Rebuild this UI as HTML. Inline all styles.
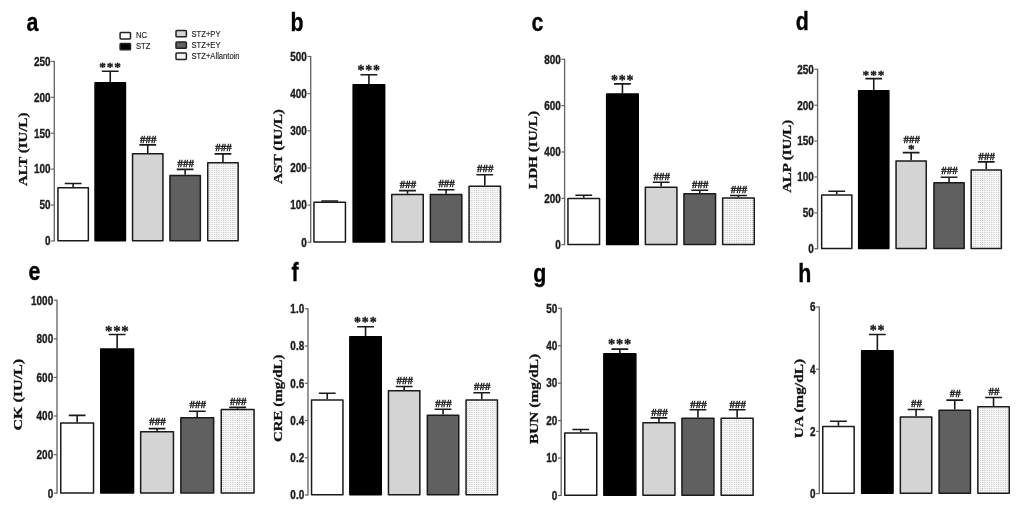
<!DOCTYPE html>
<html><head><meta charset="utf-8"><title>Figure</title>
<style>
html,body{margin:0;padding:0;background:#fff;}
body{width:1024px;height:510px;overflow:hidden;}
svg{display:block;will-change:transform;}
.tk{font-family:"Liberation Sans",sans-serif;font-weight:bold;font-size:12px;fill:#1a1a1a;stroke:#1a1a1a;stroke-width:0.35px;}
.hs{font-family:"Liberation Sans",sans-serif;font-weight:bold;font-size:12px;fill:#222;}
.yt{font-family:"Liberation Serif",serif;font-weight:bold;font-size:13.5px;fill:#111;stroke:#111;stroke-width:0.3px;}
.pl{font-family:"Liberation Sans",sans-serif;font-weight:bold;font-size:23px;fill:#000;stroke:#000;stroke-width:0.3px;}
.an{font-family:"Liberation Serif",serif;font-weight:bold;fill:#111;stroke:#111;stroke-width:0.3px;}
.lg{font-family:"Liberation Sans",sans-serif;font-size:9.8px;fill:#222;stroke:#222;stroke-width:0.15px;}
</style></head><body>
<svg width="1024" height="510" viewBox="0 0 1024 510"><defs><pattern id="dots" width="2.3" height="2" patternUnits="userSpaceOnUse"><rect width="2.3" height="2" fill="#f8f8f8"/><rect x="0" y="0" width="1" height="1" fill="#c4c4c4"/></pattern></defs><g><path d="M54.3 60.9V241.5" stroke="#666666" stroke-width="1.35" fill="none"/><path d="M51.1 241H54.3" stroke="#666666" stroke-width="1.2"/><text transform="translate(50.5 245.3) scale(0.83 1)" text-anchor="end" class="tk">0</text><path d="M51.1 205.08H54.3" stroke="#666666" stroke-width="1.2"/><text transform="translate(50.5 209.38) scale(0.83 1)" text-anchor="end" class="tk">50</text><path d="M51.1 169.16H54.3" stroke="#666666" stroke-width="1.2"/><text transform="translate(50.5 173.46) scale(0.83 1)" text-anchor="end" class="tk">100</text><path d="M51.1 133.24H54.3" stroke="#666666" stroke-width="1.2"/><text transform="translate(50.5 137.54) scale(0.83 1)" text-anchor="end" class="tk">150</text><path d="M51.1 97.32H54.3" stroke="#666666" stroke-width="1.2"/><text transform="translate(50.5 101.62) scale(0.83 1)" text-anchor="end" class="tk">200</text><path d="M51.1 61.4H54.3" stroke="#666666" stroke-width="1.2"/><text transform="translate(50.5 65.7) scale(0.83 1)" text-anchor="end" class="tk">250</text><path d="M73.15 187V183.5M64.75 183.5H81.55" stroke="#1a1a1a" stroke-width="1.6" fill="none"/><rect x="57.95" y="187.75" width="30.4" height="52.95" fill="#ffffff" stroke="#1a1a1a" stroke-width="1.5" stroke-linejoin="round"/><path d="M110.25 81.9V71.2M101.85 71.2H118.65" stroke="#1a1a1a" stroke-width="1.6" fill="none"/><rect x="95.05" y="82.65" width="30.4" height="158.05" fill="#000000" stroke="#000" stroke-width="1.5" stroke-linejoin="round"/><text class="an" text-anchor="middle" x="102.6" y="71.08" font-size="13.3">*</text><text class="an" text-anchor="middle" x="110.05" y="71.08" font-size="13.3">*</text><text class="an" text-anchor="middle" x="117.5" y="71.08" font-size="13.3">*</text><path d="M147.75 153.1V144.9M139.35 144.9H156.15" stroke="#1a1a1a" stroke-width="1.6" fill="none"/><rect x="132.55" y="153.85" width="30.4" height="86.85" fill="#d4d4d4" stroke="#1a1a1a" stroke-width="1.5" stroke-linejoin="round"/><text class="an" text-anchor="middle" transform="translate(148.25 142.89) scale(0.97 1)" font-size="11.3">###</text><path d="M185.15 174.7V169.4M176.75 169.4H193.55" stroke="#1a1a1a" stroke-width="1.6" fill="none"/><rect x="169.95" y="175.45" width="30.4" height="65.25" fill="#606060" stroke="#1a1a1a" stroke-width="1.5" stroke-linejoin="round"/><text class="an" text-anchor="middle" transform="translate(185.65 167.09) scale(0.97 1)" font-size="11.3">###</text><path d="M222.95 161.9V153.9M214.55 153.9H231.35" stroke="#1a1a1a" stroke-width="1.6" fill="none"/><rect x="207.75" y="162.65" width="30.4" height="78.05" fill="url(#dots)" stroke="#1a1a1a" stroke-width="1.5" stroke-linejoin="round"/><text class="an" text-anchor="middle" transform="translate(223.45 151.49) scale(0.97 1)" font-size="11.3">###</text><text class="yt" text-anchor="middle" textLength="73.6" lengthAdjust="spacingAndGlyphs" transform="translate(27.1 149.25) rotate(-90)">ALT (IU/L)</text><text class="pl" transform="translate(26.5 31) scale(0.93 1.12)">a</text></g><g><path d="M310.7 56V242.8" stroke="#666666" stroke-width="1.35" fill="none"/><path d="M307.5 242.3H310.7" stroke="#666666" stroke-width="1.2"/><text transform="translate(306.9 246.6) scale(0.83 1)" text-anchor="end" class="tk">0</text><path d="M307.5 205.14H310.7" stroke="#666666" stroke-width="1.2"/><text transform="translate(306.9 209.44) scale(0.83 1)" text-anchor="end" class="tk">100</text><path d="M307.5 167.98H310.7" stroke="#666666" stroke-width="1.2"/><text transform="translate(306.9 172.28) scale(0.83 1)" text-anchor="end" class="tk">200</text><path d="M307.5 130.82H310.7" stroke="#666666" stroke-width="1.2"/><text transform="translate(306.9 135.12) scale(0.83 1)" text-anchor="end" class="tk">300</text><path d="M307.5 93.66H310.7" stroke="#666666" stroke-width="1.2"/><text transform="translate(306.9 97.96) scale(0.83 1)" text-anchor="end" class="tk">400</text><path d="M307.5 56.5H310.7" stroke="#666666" stroke-width="1.2"/><text transform="translate(306.9 60.8) scale(0.83 1)" text-anchor="end" class="tk">500</text><path d="M329.7 201.6V201M321.3 201H338.1" stroke="#1a1a1a" stroke-width="1.6" fill="none"/><rect x="313.95" y="202.35" width="31.5" height="39.65" fill="#ffffff" stroke="#1a1a1a" stroke-width="1.5" stroke-linejoin="round"/><path d="M368.9 84V74.7M360.5 74.7H377.3" stroke="#1a1a1a" stroke-width="1.6" fill="none"/><rect x="353.15" y="84.75" width="31.5" height="157.25" fill="#000000" stroke="#000" stroke-width="1.5" stroke-linejoin="round"/><text class="an" text-anchor="middle" x="360.9" y="74.8" font-size="14">*</text><text class="an" text-anchor="middle" x="368.7" y="74.8" font-size="14">*</text><text class="an" text-anchor="middle" x="376.5" y="74.8" font-size="14">*</text><path d="M407.5 193.8V190.6M399.1 190.6H415.9" stroke="#1a1a1a" stroke-width="1.6" fill="none"/><rect x="391.75" y="194.55" width="31.5" height="47.45" fill="#d4d4d4" stroke="#1a1a1a" stroke-width="1.5" stroke-linejoin="round"/><text class="an" text-anchor="middle" transform="translate(408 188.29) scale(0.97 1)" font-size="11.3">###</text><path d="M446.1 193.8V189.7M437.7 189.7H454.5" stroke="#1a1a1a" stroke-width="1.6" fill="none"/><rect x="430.35" y="194.55" width="31.5" height="47.45" fill="#606060" stroke="#1a1a1a" stroke-width="1.5" stroke-linejoin="round"/><text class="an" text-anchor="middle" transform="translate(446.6 186.79) scale(0.97 1)" font-size="11.3">###</text><path d="M484.8 185.5V174.7M476.4 174.7H493.2" stroke="#1a1a1a" stroke-width="1.6" fill="none"/><rect x="469.05" y="186.25" width="31.5" height="55.75" fill="url(#dots)" stroke="#1a1a1a" stroke-width="1.5" stroke-linejoin="round"/><text class="an" text-anchor="middle" transform="translate(485.3 172.49) scale(0.97 1)" font-size="11.3">###</text><text class="yt" text-anchor="middle" textLength="75" lengthAdjust="spacingAndGlyphs" transform="translate(282.1 146.55) rotate(-90)">AST (IU/L)</text><text class="pl" transform="translate(290.5 31) scale(0.93 1.12)">b</text></g><g><path d="M564.6 58.8V245.2" stroke="#666666" stroke-width="1.35" fill="none"/><path d="M561.4 244.7H564.6" stroke="#666666" stroke-width="1.2"/><text transform="translate(560.8 249) scale(0.83 1)" text-anchor="end" class="tk">0</text><path d="M561.4 198.35H564.6" stroke="#666666" stroke-width="1.2"/><text transform="translate(560.8 202.65) scale(0.83 1)" text-anchor="end" class="tk">200</text><path d="M561.4 152H564.6" stroke="#666666" stroke-width="1.2"/><text transform="translate(560.8 156.3) scale(0.83 1)" text-anchor="end" class="tk">400</text><path d="M561.4 105.65H564.6" stroke="#666666" stroke-width="1.2"/><text transform="translate(560.8 109.95) scale(0.83 1)" text-anchor="end" class="tk">600</text><path d="M561.4 59.3H564.6" stroke="#666666" stroke-width="1.2"/><text transform="translate(560.8 63.6) scale(0.83 1)" text-anchor="end" class="tk">800</text><path d="M583.75 197.7V195.2M575.35 195.2H592.15" stroke="#1a1a1a" stroke-width="1.6" fill="none"/><rect x="567.95" y="198.45" width="31.6" height="45.95" fill="#ffffff" stroke="#1a1a1a" stroke-width="1.5" stroke-linejoin="round"/><path d="M622.45 93.2V83.9M614.05 83.9H630.85" stroke="#1a1a1a" stroke-width="1.6" fill="none"/><rect x="606.65" y="93.95" width="31.6" height="150.45" fill="#000000" stroke="#000" stroke-width="1.5" stroke-linejoin="round"/><text class="an" text-anchor="middle" x="614.45" y="85" font-size="14">*</text><text class="an" text-anchor="middle" x="622.25" y="85" font-size="14">*</text><text class="an" text-anchor="middle" x="630.05" y="85" font-size="14">*</text><path d="M661.15 186.6V182.2M652.75 182.2H669.55" stroke="#1a1a1a" stroke-width="1.6" fill="none"/><rect x="645.35" y="187.35" width="31.6" height="57.05" fill="#d4d4d4" stroke="#1a1a1a" stroke-width="1.5" stroke-linejoin="round"/><text class="an" text-anchor="middle" transform="translate(661.65 179.69) scale(0.97 1)" font-size="11.3">###</text><path d="M699.75 193V190.2M691.35 190.2H708.15" stroke="#1a1a1a" stroke-width="1.6" fill="none"/><rect x="683.95" y="193.75" width="31.6" height="50.65" fill="#606060" stroke="#1a1a1a" stroke-width="1.5" stroke-linejoin="round"/><text class="an" text-anchor="middle" transform="translate(700.25 187.79) scale(0.97 1)" font-size="11.3">###</text><path d="M738.45 197.2V195.5M730.05 195.5H746.85" stroke="#1a1a1a" stroke-width="1.6" fill="none"/><rect x="722.65" y="197.95" width="31.6" height="46.45" fill="url(#dots)" stroke="#1a1a1a" stroke-width="1.5" stroke-linejoin="round"/><text class="an" text-anchor="middle" transform="translate(738.95 193.19) scale(0.97 1)" font-size="11.3">###</text><text class="yt" text-anchor="middle" textLength="77.9" lengthAdjust="spacingAndGlyphs" transform="translate(536.7 150) rotate(-90)">LDH (IU/L)</text><text class="pl" transform="translate(531.5 31) scale(0.93 1.12)">c</text></g><g><path d="M817.6 68.8V249.3" stroke="#666666" stroke-width="1.35" fill="none"/><path d="M814.4 248.8H817.6" stroke="#666666" stroke-width="1.2"/><text transform="translate(813.8 253.1) scale(0.83 1)" text-anchor="end" class="tk">0</text><path d="M814.4 212.9H817.6" stroke="#666666" stroke-width="1.2"/><text transform="translate(813.8 217.2) scale(0.83 1)" text-anchor="end" class="tk">50</text><path d="M814.4 177H817.6" stroke="#666666" stroke-width="1.2"/><text transform="translate(813.8 181.3) scale(0.83 1)" text-anchor="end" class="tk">100</text><path d="M814.4 141.1H817.6" stroke="#666666" stroke-width="1.2"/><text transform="translate(813.8 145.4) scale(0.83 1)" text-anchor="end" class="tk">150</text><path d="M814.4 105.2H817.6" stroke="#666666" stroke-width="1.2"/><text transform="translate(813.8 109.5) scale(0.83 1)" text-anchor="end" class="tk">200</text><path d="M814.4 69.3H817.6" stroke="#666666" stroke-width="1.2"/><text transform="translate(813.8 73.6) scale(0.83 1)" text-anchor="end" class="tk">250</text><path d="M836.75 194.3V191.2M828.35 191.2H845.15" stroke="#1a1a1a" stroke-width="1.6" fill="none"/><rect x="821.65" y="195.05" width="30.2" height="53.45" fill="#ffffff" stroke="#1a1a1a" stroke-width="1.5" stroke-linejoin="round"/><path d="M873.75 89.9V78.6M865.35 78.6H882.15" stroke="#1a1a1a" stroke-width="1.6" fill="none"/><rect x="858.65" y="90.65" width="30.2" height="157.85" fill="#000000" stroke="#000" stroke-width="1.5" stroke-linejoin="round"/><text class="an" text-anchor="middle" x="865.9" y="79.19" font-size="13.3">*</text><text class="an" text-anchor="middle" x="873.55" y="79.19" font-size="13.3">*</text><text class="an" text-anchor="middle" x="881.2" y="79.19" font-size="13.3">*</text><path d="M911.15 160.3V152.6M902.75 152.6H919.55" stroke="#1a1a1a" stroke-width="1.6" fill="none"/><rect x="896.05" y="161.05" width="30.2" height="87.45" fill="#d4d4d4" stroke="#1a1a1a" stroke-width="1.5" stroke-linejoin="round"/><text class="an" text-anchor="middle" transform="translate(911.65 142.89) scale(0.97 1)" font-size="11.3">###</text><text class="an" text-anchor="middle" x="911.25" y="153.39" font-size="13.3">*</text><path d="M949.05 182.1V177.2M940.65 177.2H957.45" stroke="#1a1a1a" stroke-width="1.6" fill="none"/><rect x="933.95" y="182.85" width="30.2" height="65.65" fill="#606060" stroke="#1a1a1a" stroke-width="1.5" stroke-linejoin="round"/><text class="an" text-anchor="middle" transform="translate(949.55 174.39) scale(0.97 1)" font-size="11.3">###</text><path d="M986.25 169.2V161.9M977.85 161.9H994.65" stroke="#1a1a1a" stroke-width="1.6" fill="none"/><rect x="971.15" y="169.95" width="30.2" height="78.55" fill="url(#dots)" stroke="#1a1a1a" stroke-width="1.5" stroke-linejoin="round"/><text class="an" text-anchor="middle" transform="translate(986.75 159.69) scale(0.97 1)" font-size="11.3">###</text><text class="yt" text-anchor="middle" textLength="73" lengthAdjust="spacingAndGlyphs" transform="translate(790.8 156.35) rotate(-90)">ALP (IU/L)</text><text class="pl" transform="translate(795.8 30) scale(0.93 1.12)">d</text></g><g><path d="M57 299.7V493.7" stroke="#666666" stroke-width="1.35" fill="none"/><path d="M53.8 493.2H57" stroke="#666666" stroke-width="1.2"/><text transform="translate(53.2 497.5) scale(0.83 1)" text-anchor="end" class="tk">0</text><path d="M53.8 454.6H57" stroke="#666666" stroke-width="1.2"/><text transform="translate(53.2 458.9) scale(0.83 1)" text-anchor="end" class="tk">200</text><path d="M53.8 416H57" stroke="#666666" stroke-width="1.2"/><text transform="translate(53.2 420.3) scale(0.83 1)" text-anchor="end" class="tk">400</text><path d="M53.8 377.4H57" stroke="#666666" stroke-width="1.2"/><text transform="translate(53.2 381.7) scale(0.83 1)" text-anchor="end" class="tk">600</text><path d="M53.8 338.8H57" stroke="#666666" stroke-width="1.2"/><text transform="translate(53.2 343.1) scale(0.83 1)" text-anchor="end" class="tk">800</text><path d="M53.8 300.2H57" stroke="#666666" stroke-width="1.2"/><text transform="translate(53.2 304.5) scale(0.83 1)" text-anchor="end" class="tk">1000</text><path d="M77.15 422.2V415.4M68.75 415.4H85.55" stroke="#1a1a1a" stroke-width="1.6" fill="none"/><rect x="60.75" y="422.95" width="32.8" height="69.95" fill="#ffffff" stroke="#1a1a1a" stroke-width="1.5" stroke-linejoin="round"/><path d="M117.15 348.3V334.5M108.75 334.5H125.55" stroke="#1a1a1a" stroke-width="1.6" fill="none"/><rect x="100.75" y="349.05" width="32.8" height="143.85" fill="#000000" stroke="#000" stroke-width="1.5" stroke-linejoin="round"/><text class="an" text-anchor="middle" x="108.85" y="336.15" font-size="15">*</text><text class="an" text-anchor="middle" x="116.95" y="336.15" font-size="15">*</text><text class="an" text-anchor="middle" x="125.05" y="336.15" font-size="15">*</text><path d="M157.05 430.9V428.6M148.65 428.6H165.45" stroke="#1a1a1a" stroke-width="1.6" fill="none"/><rect x="140.65" y="431.65" width="32.8" height="61.25" fill="#d4d4d4" stroke="#1a1a1a" stroke-width="1.5" stroke-linejoin="round"/><text class="an" text-anchor="middle" transform="translate(157.55 425.29) scale(0.97 1)" font-size="11.3">###</text><path d="M197.25 417.1V411.2M188.85 411.2H205.65" stroke="#1a1a1a" stroke-width="1.6" fill="none"/><rect x="180.85" y="417.85" width="32.8" height="75.05" fill="#606060" stroke="#1a1a1a" stroke-width="1.5" stroke-linejoin="round"/><text class="an" text-anchor="middle" transform="translate(197.75 408.09) scale(0.97 1)" font-size="11.3">###</text><path d="M237.65 408.7V407.4M229.25 407.4H246.05" stroke="#1a1a1a" stroke-width="1.6" fill="none"/><rect x="221.25" y="409.45" width="32.8" height="83.45" fill="url(#dots)" stroke="#1a1a1a" stroke-width="1.5" stroke-linejoin="round"/><text class="an" text-anchor="middle" transform="translate(238.15 405.29) scale(0.97 1)" font-size="11.3">###</text><text class="yt" text-anchor="middle" textLength="71.7" lengthAdjust="spacingAndGlyphs" transform="translate(22.4 394.7) rotate(-90)">CK (IU/L)</text><text class="pl" transform="translate(28.5 280) scale(0.93 1.12)">e</text></g><g><path d="M308 308.3V495.5" stroke="#666666" stroke-width="1.35" fill="none"/><path d="M304.8 495H308" stroke="#666666" stroke-width="1.2"/><text transform="translate(304.2 499.3) scale(0.83 1)" text-anchor="end" class="tk">0.0</text><path d="M304.8 457.76H308" stroke="#666666" stroke-width="1.2"/><text transform="translate(304.2 462.06) scale(0.83 1)" text-anchor="end" class="tk">0.2</text><path d="M304.8 420.52H308" stroke="#666666" stroke-width="1.2"/><text transform="translate(304.2 424.82) scale(0.83 1)" text-anchor="end" class="tk">0.4</text><path d="M304.8 383.28H308" stroke="#666666" stroke-width="1.2"/><text transform="translate(304.2 387.58) scale(0.83 1)" text-anchor="end" class="tk">0.6</text><path d="M304.8 346.04H308" stroke="#666666" stroke-width="1.2"/><text transform="translate(304.2 350.34) scale(0.83 1)" text-anchor="end" class="tk">0.8</text><path d="M304.8 308.8H308" stroke="#666666" stroke-width="1.2"/><text transform="translate(304.2 313.1) scale(0.83 1)" text-anchor="end" class="tk">1.0</text><path d="M327.25 399.3V393.3M318.85 393.3H335.65" stroke="#1a1a1a" stroke-width="1.6" fill="none"/><rect x="311.55" y="400.05" width="31.4" height="94.65" fill="#ffffff" stroke="#1a1a1a" stroke-width="1.5" stroke-linejoin="round"/><path d="M365.55 336.1V326.7M357.15 326.7H373.95" stroke="#1a1a1a" stroke-width="1.6" fill="none"/><rect x="349.85" y="336.85" width="31.4" height="157.85" fill="#000000" stroke="#000" stroke-width="1.5" stroke-linejoin="round"/><text class="an" text-anchor="middle" x="357.45" y="326.7" font-size="14">*</text><text class="an" text-anchor="middle" x="365.35" y="326.7" font-size="14">*</text><text class="an" text-anchor="middle" x="373.25" y="326.7" font-size="14">*</text><path d="M404.15 389.9V386.5M395.75 386.5H412.55" stroke="#1a1a1a" stroke-width="1.6" fill="none"/><rect x="388.45" y="390.65" width="31.4" height="104.05" fill="#d4d4d4" stroke="#1a1a1a" stroke-width="1.5" stroke-linejoin="round"/><text class="an" text-anchor="middle" transform="translate(404.65 383.99) scale(0.97 1)" font-size="11.3">###</text><path d="M443.05 414.4V409.3M434.65 409.3H451.45" stroke="#1a1a1a" stroke-width="1.6" fill="none"/><rect x="427.35" y="415.15" width="31.4" height="79.55" fill="#606060" stroke="#1a1a1a" stroke-width="1.5" stroke-linejoin="round"/><text class="an" text-anchor="middle" transform="translate(443.55 407.39) scale(0.97 1)" font-size="11.3">###</text><path d="M481.75 399.2V392.8M473.35 392.8H490.15" stroke="#1a1a1a" stroke-width="1.6" fill="none"/><rect x="466.05" y="399.95" width="31.4" height="94.75" fill="url(#dots)" stroke="#1a1a1a" stroke-width="1.5" stroke-linejoin="round"/><text class="an" text-anchor="middle" transform="translate(482.25 390.39) scale(0.97 1)" font-size="11.3">###</text><text class="yt" text-anchor="middle" textLength="87.5" lengthAdjust="spacingAndGlyphs" transform="translate(282.3 398.2) rotate(-90)">CRE (mg/dL)</text><text class="pl" transform="translate(291.5 280.5) scale(0.93 1.12)">f</text></g><g><path d="M561.2 307.8V496" stroke="#666666" stroke-width="1.35" fill="none"/><path d="M558 495.5H561.2" stroke="#666666" stroke-width="1.2"/><text transform="translate(557.4 499.8) scale(0.83 1)" text-anchor="end" class="tk">0</text><path d="M558 458.06H561.2" stroke="#666666" stroke-width="1.2"/><text transform="translate(557.4 462.36) scale(0.83 1)" text-anchor="end" class="tk">10</text><path d="M558 420.62H561.2" stroke="#666666" stroke-width="1.2"/><text transform="translate(557.4 424.92) scale(0.83 1)" text-anchor="end" class="tk">20</text><path d="M558 383.18H561.2" stroke="#666666" stroke-width="1.2"/><text transform="translate(557.4 387.48) scale(0.83 1)" text-anchor="end" class="tk">30</text><path d="M558 345.74H561.2" stroke="#666666" stroke-width="1.2"/><text transform="translate(557.4 350.04) scale(0.83 1)" text-anchor="end" class="tk">40</text><path d="M558 308.3H561.2" stroke="#666666" stroke-width="1.2"/><text transform="translate(557.4 312.6) scale(0.83 1)" text-anchor="end" class="tk">50</text><path d="M580.75 432.2V429.5M572.35 429.5H589.15" stroke="#1a1a1a" stroke-width="1.6" fill="none"/><rect x="564.75" y="432.95" width="32" height="62.25" fill="#ffffff" stroke="#1a1a1a" stroke-width="1.5" stroke-linejoin="round"/><path d="M619.85 353V349.1M611.45 349.1H628.25" stroke="#1a1a1a" stroke-width="1.6" fill="none"/><rect x="603.85" y="353.75" width="32" height="141.45" fill="#000000" stroke="#000" stroke-width="1.5" stroke-linejoin="round"/><text class="an" text-anchor="middle" x="611.7" y="349.02" font-size="14.5">*</text><text class="an" text-anchor="middle" x="619.65" y="349.02" font-size="14.5">*</text><text class="an" text-anchor="middle" x="627.6" y="349.02" font-size="14.5">*</text><path d="M658.95 421.9V417.9M650.55 417.9H667.35" stroke="#1a1a1a" stroke-width="1.6" fill="none"/><rect x="642.95" y="422.65" width="32" height="72.55" fill="#d4d4d4" stroke="#1a1a1a" stroke-width="1.5" stroke-linejoin="round"/><text class="an" text-anchor="middle" transform="translate(659.45 415.99) scale(0.97 1)" font-size="11.3">###</text><path d="M697.95 417.6V409.8M689.55 409.8H706.35" stroke="#1a1a1a" stroke-width="1.6" fill="none"/><rect x="681.95" y="418.35" width="32" height="76.85" fill="#606060" stroke="#1a1a1a" stroke-width="1.5" stroke-linejoin="round"/><text class="an" text-anchor="middle" transform="translate(698.45 407.69) scale(0.97 1)" font-size="11.3">###</text><path d="M737.15 417.6V409.8M728.75 409.8H745.55" stroke="#1a1a1a" stroke-width="1.6" fill="none"/><rect x="721.15" y="418.35" width="32" height="76.85" fill="url(#dots)" stroke="#1a1a1a" stroke-width="1.5" stroke-linejoin="round"/><text class="an" text-anchor="middle" transform="translate(737.65 407.69) scale(0.97 1)" font-size="11.3">###</text><text class="yt" text-anchor="middle" textLength="90.3" lengthAdjust="spacingAndGlyphs" transform="translate(538.3 398.9) rotate(-90)">BUN (mg/dL)</text><text class="pl" transform="translate(533.3 282) scale(0.93 1.12)">g</text></g><g><path d="M819.3 306.5V494.1" stroke="#666666" stroke-width="1.35" fill="none"/><path d="M816.1 493.6H819.3" stroke="#666666" stroke-width="1.2"/><text transform="translate(815.5 497.9) scale(0.83 1)" text-anchor="end" class="tk">0</text><path d="M816.1 431.4H819.3" stroke="#666666" stroke-width="1.2"/><text transform="translate(815.5 435.7) scale(0.83 1)" text-anchor="end" class="tk">2</text><path d="M816.1 369.2H819.3" stroke="#666666" stroke-width="1.2"/><text transform="translate(815.5 373.5) scale(0.83 1)" text-anchor="end" class="tk">4</text><path d="M816.1 307H819.3" stroke="#666666" stroke-width="1.2"/><text transform="translate(815.5 311.3) scale(0.83 1)" text-anchor="end" class="tk">6</text><path d="M838.45 425.8V421.3M830.05 421.3H846.85" stroke="#1a1a1a" stroke-width="1.6" fill="none"/><rect x="822.75" y="426.55" width="31.4" height="66.75" fill="#ffffff" stroke="#1a1a1a" stroke-width="1.5" stroke-linejoin="round"/><path d="M877.35 350V334.5M868.95 334.5H885.75" stroke="#1a1a1a" stroke-width="1.6" fill="none"/><rect x="861.65" y="350.75" width="31.4" height="142.55" fill="#000000" stroke="#000" stroke-width="1.5" stroke-linejoin="round"/><text class="an" text-anchor="middle" x="873.2" y="334.8" font-size="14">*</text><text class="an" text-anchor="middle" x="881.1" y="334.8" font-size="14">*</text><path d="M916.05 416.2V409.5M907.65 409.5H924.45" stroke="#1a1a1a" stroke-width="1.6" fill="none"/><rect x="900.35" y="416.95" width="31.4" height="76.35" fill="#d4d4d4" stroke="#1a1a1a" stroke-width="1.5" stroke-linejoin="round"/><text class="an" text-anchor="middle" transform="translate(916.55 406.69) scale(0.97 1)" font-size="11.3">##</text><path d="M954.75 409.4V400.1M946.35 400.1H963.15" stroke="#1a1a1a" stroke-width="1.6" fill="none"/><rect x="939.05" y="410.15" width="31.4" height="83.15" fill="#606060" stroke="#1a1a1a" stroke-width="1.5" stroke-linejoin="round"/><text class="an" text-anchor="middle" transform="translate(955.25 396.59) scale(0.97 1)" font-size="11.3">##</text><path d="M993.55 406V397.5M985.15 397.5H1001.95" stroke="#1a1a1a" stroke-width="1.6" fill="none"/><rect x="977.85" y="406.75" width="31.4" height="86.55" fill="url(#dots)" stroke="#1a1a1a" stroke-width="1.5" stroke-linejoin="round"/><text class="an" text-anchor="middle" transform="translate(994.05 394.89) scale(0.97 1)" font-size="11.3">##</text><text class="yt" text-anchor="middle" textLength="79.3" lengthAdjust="spacingAndGlyphs" transform="translate(802.7 398.5) rotate(-90)">UA (mg/dL)</text><text class="pl" transform="translate(798.3 282.4) scale(0.93 1.12)">h</text></g><g><rect x="120.1" y="32.5" width="10.4" height="6.4" rx="0.8" fill="#fff" stroke="#222" stroke-width="1.5"/><rect x="120.1" y="43.4" width="10.4" height="6.4" rx="0.8" fill="#000" stroke="#222" stroke-width="1.5"/><rect x="176" y="30.4" width="10.4" height="6.4" rx="0.8" fill="#d4d4d4" stroke="#222" stroke-width="1.5"/><rect x="176" y="41.9" width="10.4" height="6.4" rx="0.8" fill="#606060" stroke="#222" stroke-width="1.5"/><rect x="176" y="53" width="10.4" height="6.4" rx="0.8" fill="#f2f2f2" stroke="#222" stroke-width="1.5"/><text class="lg" transform="translate(136 38) scale(0.78 1)">NC</text><text class="lg" transform="translate(136 48.8) scale(0.78 1)">STZ</text><text class="lg" transform="translate(191.5 37.3) scale(0.78 1)">STZ+PY</text><text class="lg" transform="translate(191.5 48.4) scale(0.78 1)">STZ+EY</text><text class="lg" transform="translate(191.5 59.4) scale(0.78 1)">STZ+Allantoin</text></g></svg>
</body></html>
